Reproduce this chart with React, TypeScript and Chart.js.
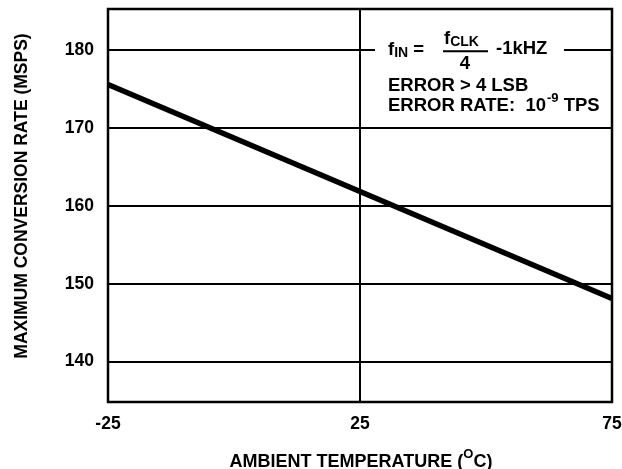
import React, { useEffect, useRef } from "react";
import { Chart, registerables } from "chart.js";

Chart.register(...registerables);

const temperatures = [-25, 75];
const conversionRates = [175.6, 148.1];
const xTicks = [-25, 25, 75];
const yTicks = [140, 150, 160, 170, 180];
const yTitle = "MAXIMUM CONVERSION RATE (MSPS)";
const xTitleMain = "AMBIENT TEMPERATURE (";
const xTitleSup = "O";
const xTitleEnd = "C)";
const noteLine2 = "ERROR > 4 LSB";
const noteLine3a = "ERROR RATE:  10";
const noteLine3sup = "-9";
const noteLine3b = " TPS";

const FONT = "'Liberation Sans', Arial, Helvetica, sans-serif";

const zeroPad = (s: any) => {
  s.paddingTop = 0;
  s.paddingBottom = 0;
  s.paddingLeft = 0;
  s.paddingRight = 0;
};

const overlayPlugin = {
  id: "overlay",
  afterDatasetsDraw(chart: any) {
    const { ctx, chartArea } = chart;
    const yg = chart.scales.y.getPixelForValue(180);
    ctx.save();
    // white box behind annotation
    ctx.fillStyle = "#fff";
    ctx.fillRect(375, yg - 8, 564 - 375, 16);
    // frame
    ctx.strokeStyle = "#000";
    ctx.lineWidth = 2.5;
    ctx.strokeRect(chartArea.left, chartArea.top, chartArea.right - chartArea.left, chartArea.bottom - chartArea.top);

    ctx.fillStyle = "#000";
    ctx.textBaseline = "alphabetic";
    ctx.textAlign = "left";
    const big = `bold 18.5px ${FONT}`;
    const small = `bold 14px ${FONT}`;
    // f_IN =
    let x = 388;
    ctx.font = big;
    ctx.fillText("f", x, yg + 4.5);
    x += ctx.measureText("f").width;
    ctx.font = small;
    ctx.fillText("IN", x, yg + 7);
    x += ctx.measureText("IN").width;
    ctx.font = big;
    ctx.fillText(" =", x, yg + 4.5);
    // f_CLK / 4
    x = 444;
    ctx.fillText("f", x, yg - 6);
    x += ctx.measureText("f").width;
    ctx.font = small;
    ctx.fillText("CLK", x, yg - 4);
    ctx.beginPath();
    ctx.lineWidth = 2;
    ctx.moveTo(443, yg + 1);
    ctx.lineTo(488, yg + 1);
    ctx.stroke();
    ctx.font = big;
    ctx.textAlign = "center";
    ctx.fillText("4", 465, yg + 18.5);
    ctx.textAlign = "left";
    ctx.fillText("-1kHZ", 496, yg + 3.5);
    ctx.fillText(noteLine2, 388, yg + 41);
    x = 388;
    ctx.fillText(noteLine3a, x, yg + 60.5);
    x += ctx.measureText(noteLine3a).width;
    ctx.font = `bold 13px ${FONT}`;
    ctx.fillText(noteLine3sup, x + 1, yg + 52);
    x += ctx.measureText(noteLine3sup).width + 1;
    ctx.font = big;
    ctx.fillText(noteLine3b, x, yg + 60.5);

    // x title with superscript
    ctx.font = `bold 18px ${FONT}`;
    const w1 = ctx.measureText(xTitleMain).width;
    const w3 = ctx.measureText(xTitleEnd).width;
    ctx.font = `bold 13px ${FONT}`;
    const w2 = ctx.measureText(xTitleSup).width;
    const total = w1 + w2 + w3;
    let tx = (chartArea.left + chartArea.right) / 2 + 1 - total / 2;
    ctx.font = `bold 18px ${FONT}`;
    ctx.fillText(xTitleMain, tx, 467);
    tx += w1;
    ctx.font = `bold 13px ${FONT}`;
    ctx.fillText(xTitleSup, tx, 458);
    tx += w2;
    ctx.font = `bold 18px ${FONT}`;
    ctx.fillText(xTitleEnd, tx, 467);

    // y title
    ctx.translate(22, 196);
    ctx.rotate(-Math.PI / 2);
    ctx.textAlign = "center";
    ctx.textBaseline = "middle";
    ctx.font = `bold 17.5px ${FONT}`;
    ctx.fillText(yTitle, 0, 0);
    ctx.restore();
  },
};

export default function App() {
  const ref = useRef<HTMLCanvasElement>(null);
  useEffect(() => {
    document.body.style.margin = "0";
    const canvas = ref.current!;
    const chart = new Chart(canvas, {
      type: "line",
      data: {
        datasets: [
          {
            data: temperatures.map((t, i) => ({ x: t, y: conversionRates[i] })),
            borderColor: "#000",
            borderWidth: 5.5,
            pointRadius: 0,
            fill: false,
            tension: 0,
            clip: 6,
          },
        ],
      },
      options: {
        animation: false,
        responsive: false,
        devicePixelRatio: 1,
        layout: { padding: { top: 9, right: 10, left: 0, bottom: 0 } },
        plugins: { legend: { display: false }, tooltip: { enabled: false } },
        scales: {
          x: {
            type: "linear",
            min: -25,
            max: 75,
            afterBuildTicks: (s: any) => {
              s.ticks = xTicks.map((v) => ({ value: v }));
            },
            afterFit: (s: any) => {
              s.height = 67;
              zeroPad(s);
            },
            ticks: {
              color: "#000",
              font: { family: FONT, size: 17.5, weight: "bold" },
              padding: 12,
              maxRotation: 0,
              autoSkip: false,
            },
            grid: { color: "#000", lineWidth: 2, drawTicks: false },
            border: { display: false },
          },
          y: {
            type: "linear",
            min: 134.8,
            max: 185.3,
            afterBuildTicks: (s: any) => {
              s.ticks = yTicks.map((v) => ({ value: v }));
            },
            afterFit: (s: any) => {
              s.width = 108;
              zeroPad(s);
            },
            ticks: {
              color: "#000",
              font: { family: FONT, size: 17.5, weight: "bold" },
              padding: 14,
              autoSkip: false,
            },
            grid: { color: "#000", lineWidth: 2, drawTicks: false },
            border: { display: false },
          },
        },
      },
      plugins: [overlayPlugin],
    });
    return () => chart.destroy();
  }, []);
  return (
    <div style={{ width: 622, height: 469, background: "#fff" }}>
      <canvas ref={ref} width={622} height={469} />
    </div>
  );
}
